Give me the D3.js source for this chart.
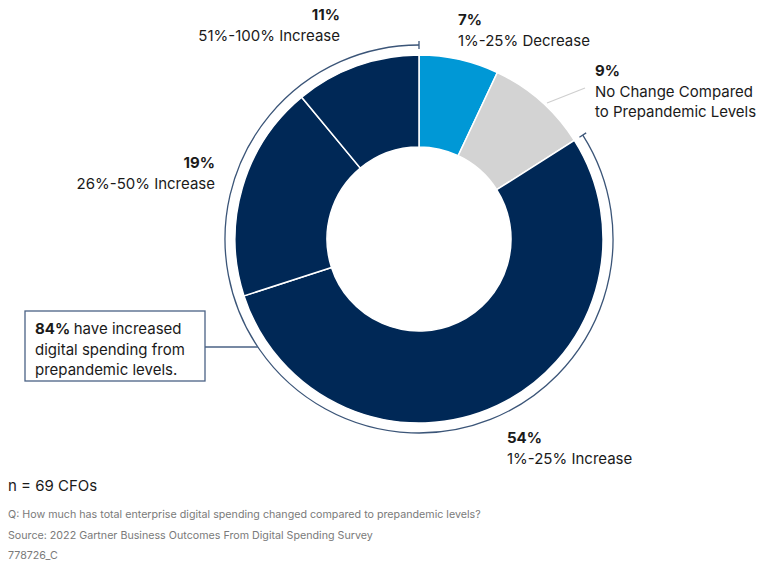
<!DOCTYPE html>
<html>
<head>
<meta charset="utf-8">
<script src="https://cdn.jsdelivr.net/npm/d3@7"></script>
<style>
  body { margin: 0; background: #fff; }
  svg { font-family: Inter, "Noto Sans", sans-serif; }
</style>
</head>
<body>
<div id="chart"></div>
<script>
// data
const categories = ["1%-25% Decrease", "No Change Compared to Prepandemic Levels",
                    "1%-25% Increase", "26%-50% Increase", "51%-100% Increase"];
const values = [7, 9, 54, 19, 11];
const colors = ["#0098d6", "#d3d3d3", "#002856", "#002856", "#002856"];
const labelLines = [["1%-25% Decrease"], ["No Change Compared", "to Prepandemic Levels"],
                    ["1%-25% Increase"], ["26%-50% Increase"], ["51%-100% Increase"]];
const calloutPct = "84%";
const calloutText = ["have increased", "digital spending from", "prepandemic levels."];
const footNotes = ["Q: How much has total enterprise digital spending changed compared to prepandemic levels?",
                   "Source: 2022 Gartner Business Outcomes From Digital Spending Survey",
                   "778726_C"];

const width = 768, height = 561;
const cx = 419, cy = 239, rOuter = 184, rInner = 92, rBracket = 194;

const svg = d3.select("#chart").append("svg")
    .attr("width", width)
    .attr("height", height);

const pie = d3.pie().sort(null).value(d => d)(values);
const arc = d3.arc().innerRadius(rInner).outerRadius(rOuter);

const g = svg.append("g").attr("transform", `translate(${cx},${cy})`);
g.selectAll("path.slice")
    .data(pie)
  .enter().append("path")
    .attr("class", "slice")
    .attr("d", arc)
    .attr("fill", (d, i) => colors[i])
    .attr("stroke", "#fff")
    .attr("stroke-width", 1.5);

// bracket arc over the increase slices (54 + 19 + 11)
const startA = pie[2].startAngle, endA = 2 * Math.PI;
g.append("path")
    .attr("d", d3.arc().innerRadius(rBracket).outerRadius(rBracket)({startAngle: startA, endAngle: endA}))
    .attr("fill", "none")
    .attr("stroke", "#3b5578")
    .attr("stroke-width", 1.3);
[startA, endA].forEach(a => {
  const x1 = Math.sin(a) * (rBracket - 4), y1 = -Math.cos(a) * (rBracket - 4);
  const x2 = Math.sin(a) * (rBracket + 4), y2 = -Math.cos(a) * (rBracket + 4);
  g.append("line").attr("x1", x1).attr("y1", y1).attr("x2", x2).attr("y2", y2)
    .attr("stroke", "#3b5578").attr("stroke-width", 1.3);
});

// slice labels
const labelPos = [
  {x: 458, y: 25, anchor: "start"},
  {x: 595, y: 76, anchor: "start"},
  {x: 507, y: 443, anchor: "start"},
  {x: 215, y: 168, anchor: "end"},
  {x: 340, y: 20, anchor: "end"}
];
labelPos.forEach((p, i) => {
  const t = svg.append("text")
      .attr("x", p.x).attr("y", p.y)
      .attr("text-anchor", p.anchor)
      .attr("fill", "#1a1a1a")
      .style("font-size", "15px");
  t.append("tspan").attr("x", p.x).style("font-weight", 700).text(values[i] + "%");
  labelLines[i].forEach(line => {
    t.append("tspan").attr("x", p.x).attr("dy", 20.5).text(line);
  });
});

// leader line for the gray slice
svg.append("line")
    .attr("x1", 547).attr("y1", 103).attr("x2", 585).attr("y2", 88)
    .attr("stroke", "#cfcfcf").attr("stroke-width", 1.2);

// callout box
const bx = 25, by = 311, bw = 180, bh = 70;
svg.append("rect")
    .attr("x", bx).attr("y", by).attr("width", bw).attr("height", bh)
    .attr("fill", "#fff").attr("stroke", "#4a6285").attr("stroke-width", 1.3);
const ly = 347;
const lx = cx - Math.sqrt(rBracket * rBracket - (ly - cy) * (ly - cy));
svg.append("line")
    .attr("x1", bx + bw).attr("y1", ly).attr("x2", lx).attr("y2", ly)
    .attr("stroke", "#4a6285").attr("stroke-width", 1.3);
const ct = svg.append("text").attr("fill", "#1a1a1a").style("font-size", "15px");
calloutText.forEach((line, i) => {
  const ts = ct.append("tspan").attr("x", 35).attr("y", 334 + i * 20.5);
  if (i === 0) {
    ts.append("tspan").style("font-weight", 700).text(calloutPct + " ");
  }
  ts.append("tspan").text(line);
});

// footer
svg.append("text").attr("x", 8).attr("y", 491)
    .attr("fill", "#1a1a1a").style("font-size", "15px").text("n = 69 CFOs");
footNotes.forEach((f, i) => {
  svg.append("text").attr("x", 8).attr("y", 518 + i * 20.5)
      .attr("fill", "#7a7a7a").style("font-size", "10.7px").text(f);
});
</script>
</body>
</html>
